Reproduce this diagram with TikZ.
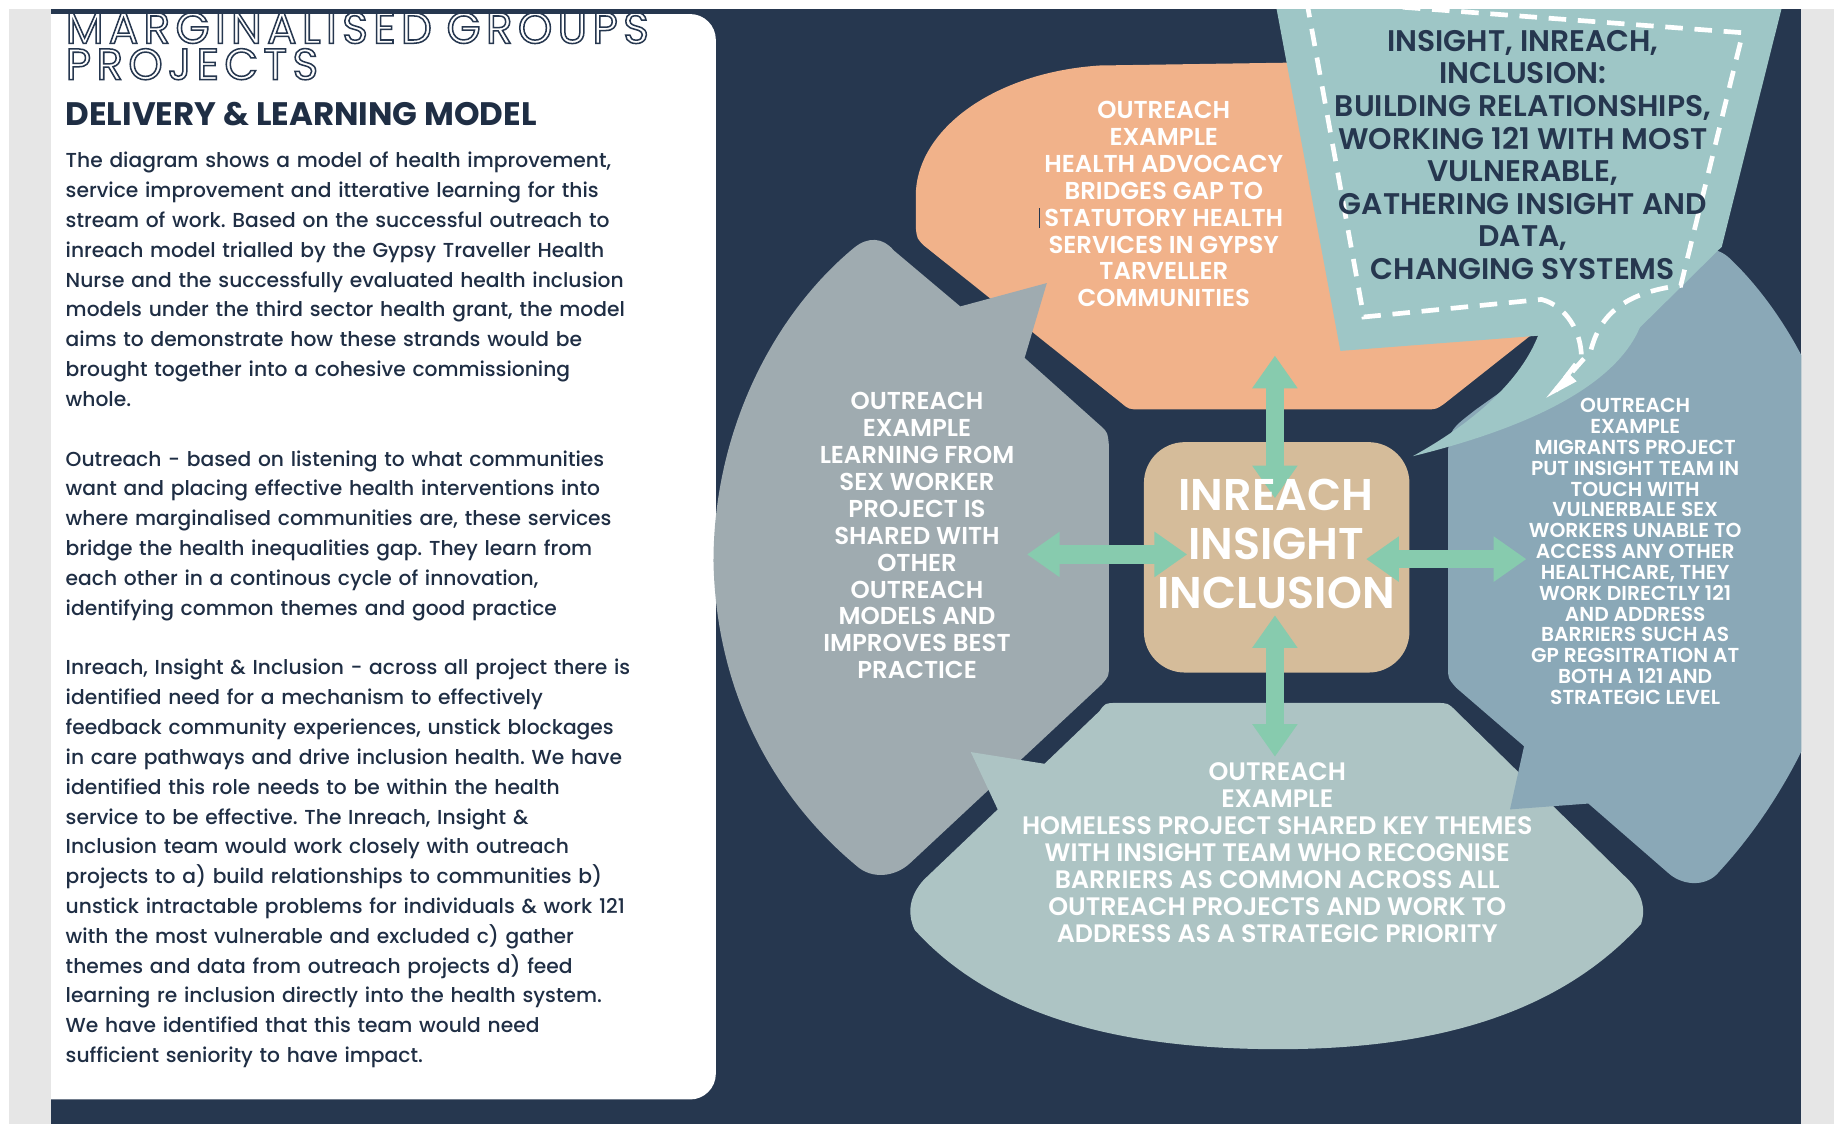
\documentclass[tikz,border=0pt]{standalone}
\usepackage{fontspec}
\setmainfont{Poppins}
\newfontfamily\labfont{Poppins SemiBold}
\newfontfamily\bodyfont{Poppins Medium}
\usetikzlibrary{arrows.meta}
\definecolor{navy}{HTML}{26374F}
\definecolor{lgray}{HTML}{E6E6E6}
\definecolor{peach}{HTML}{F1B28A}
\definecolor{callc}{HTML}{9EC6C6}
\definecolor{greyc}{HTML}{9FABB0}
\definecolor{bluec}{HTML}{8AA8B7}
\definecolor{botc}{HTML}{ADC4C4}
\definecolor{tanc}{HTML}{D5BC9A}
\definecolor{mint}{HTML}{87CBAE}
\definecolor{txtnavy}{HTML}{1F2E44}
% outlined (stroke-only) text
\newcommand\olt[1]{\special{pdf:literal direct 1 Tr 1.3 w}#1\special{pdf:literal direct 0 Tr}}
\tikzset{
  lab/.style={text=white, align=center, inner sep=0pt, font=\labfont\fontsize{20.9}{23}\selectfont},
  marrow/.style={draw=mint, line width=16pt, {Triangle[width=37pt,length=28pt]}-{Triangle[width=37pt,length=28pt]}},
}
\begin{document}
\frenchspacing
\begin{tikzpicture}[x=1pt,y=-1pt]
\useasboundingbox (0,0) rectangle (1568,961);
\fill[white] (0,0) rectangle (1568,961);
\fill[navy] (44,8) rectangle (1540,961);
% white text panel
\fill[white, rounded corners=22pt] (8,12) rectangle (612,940);
\fill[lgray] (8,8) rectangle (44,961);
\fill[lgray] (1540,8) rectangle (1568,961);

\begin{scope}
\clip (44,8) rectangle (1540,961);
% peach
\fill[peach] (783,195) -- (783,165) .. controls (785,110) and (850,62) .. (940,56) -- (1340,50) -- (1340,262)
  -- (1235,345) .. controls (1228,350) .. (1218,350) -- (975,350) .. controls (965,350) .. (958,344)
  -- (790,210) .. controls (784,204) .. (783,195) -- cycle;
% grey left
\fill[greyc] (948,380) -- (948,570) .. controls (948,578) .. (942,585) -- (778,738)
  .. controls (765,750) and (745,752) .. (732,740) .. controls (660,680) and (612,590) .. (610,480)
  .. controls (610,370) and (660,270) .. (730,212) .. controls (742,202) and (755,203) .. (764,214)
  -- (821,262) -- (895,242) -- (876,306) -- (942,365) .. controls (947,370) .. (948,380) -- cycle;
% bottom
\fill[botc] (955,601) -- (1228,601) .. controls (1238,601) .. (1245,608) -- (1392,752)
  .. controls (1402,762) and (1408,775) .. (1403,790) .. controls (1330,870) and (1220,897) .. (1093,897)
  .. controls (960,897) and (850,870) .. (782,795) .. controls (775,780) and (778,765) .. (790,752)
  -- (853,692) -- (830,643) -- (893,653) -- (940,608) .. controls (945,601) .. (955,601) -- cycle;
% blue right
\fill[bluec] (1238,385) -- (1238,570) .. controls (1238,580) .. (1245,588) -- (1303,638) -- (1291,692)
  -- (1358,687) -- (1427,747) .. controls (1440,758) and (1460,758) .. (1470,745)
  .. controls (1530,680) and (1580,580) .. (1585,480) .. controls (1585,380) and (1540,280) .. (1480,222)
  .. controls (1468,210) and (1452,210) .. (1442,222) -- (1262,350) .. controls (1240,367) .. (1238,385) -- cycle;
% callout
\fill[callc] (1090,0) -- (1525,0) -- (1472,211) -- (1402,280)
  .. controls (1385,320) and (1330,360) .. (1208,390)
  .. controls (1262,360) and (1300,325) .. (1315,287) -- (1146,300) -- cycle;
\draw[white, line width=4pt, dash pattern=on 15pt off 10pt]
  (1117,0) -- (1166,271) -- (1318,256) .. controls (1340,262) and (1352,285) .. (1352,305) -- (1330,334)
  -- (1360,300) .. controls (1368,268) and (1390,250) .. (1437,244) -- (1490,28) -- cycle;
\fill[white] (1322,340) -- (1340,318) -- (1348,326) -- cycle;
\end{scope}

% centre box
\node[fill=tanc, rounded corners=35pt, minimum width=227pt, minimum height=197pt, inner sep=0pt] (core) at (1091.5,476.5) {};

% arrows
\coordinate (aT1) at (1090,304); \coordinate (aT2) at (1090,426);
\coordinate (aB1) at (1090,526); \coordinate (aB2) at (1090,647);
\coordinate (aL1) at (878,474);  \coordinate (aL2) at (1015,474);
\coordinate (aR1) at (1168,478); \coordinate (aR2) at (1305,478);
\draw[marrow] (aT1) -- (aT2);
\draw[marrow] (aB1) -- (aB2);
\draw[marrow] (aL1) -- (aL2);
\draw[marrow] (aR1) -- (aR2);

\node[text=white, align=center, inner sep=0pt, font=\labfont\fontsize{38}{42}\selectfont] (coretxt) at (1091,465) {INREACH\\INSIGHT\\INCLUSION};

% labels
\node[lab] (peachtxt) at (995,174.5) {OUTREACH\\EXAMPLE\\HEALTH ADVOCACY\\BRIDGES GAP TO\\STATUTORY HEALTH\\SERVICES IN GYPSY\\TARVELLER\\COMMUNITIES};
\draw[navy, line width=1pt] (889,178) -- (889,195);
\node[lab] (greytxt) at (784,458) {OUTREACH\\EXAMPLE\\LEARNING FROM\\SEX WORKER\\PROJECT IS\\SHARED WITH\\OTHER\\OUTREACH\\MODELS AND\\IMPROVES BEST\\PRACTICE};
\node[lab, font=\labfont\fontsize{17.3}{17.8}\selectfont] (bluetxt) at (1398,471.5) {OUTREACH\\EXAMPLE\\MIGRANTS PROJECT\\PUT INSIGHT TEAM IN\\TOUCH WITH\\VULNERBALE SEX\\WORKERS UNABLE TO\\ACCESS ANY OTHER\\HEALTHCARE, THEY\\WORK DIRECTLY 121\\AND ADDRESS\\BARRIERS SUCH AS\\GP REGSITRATION AT\\BOTH A 121 AND\\STRATEGIC LEVEL};
\node[lab, font=\labfont\fontsize{21.6}{23}\selectfont] (bottxt) at (1092,729) {OUTREACH\\EXAMPLE\\HOMELESS PROJECT SHARED KEY THEMES\\WITH INSIGHT TEAM WHO RECOGNISE\\BARRIERS AS COMMON ACROSS ALL\\OUTREACH PROJECTS AND WORK TO\\ADDRESS AS A STRATEGIC PRIORITY};
\node[lab, text=navy, font=\labfont\fontsize{25.5}{27.86}\selectfont] (calltxt) at (1302,132.5) {INSIGHT, INREACH,\\INCLUSION:\\BUILDING RELATIONSHIPS,\\WORKING 121 WITH MOST\\VULNERABLE,\\GATHERING INSIGHT AND\\DATA,\\CHANGING SYSTEMS};

% left panel text
\node[anchor=base west, inner sep=0pt, text width=560pt, align=left, text=navy, font=\fontsize{37.5}{31}\selectfont\addfontfeature{LetterSpace=12}] (title) at (56,37) {\olt{MARGINALISED GROUPS}\\\olt{PROJECTS}};
\node[anchor=base west, inner sep=0pt, text=txtnavy, font=\bfseries\fontsize{27.8}{30}\selectfont] (sub) at (56,107) {DELIVERY \& LEARNING MODEL};
\node[anchor=base west, inner sep=0pt, text width=600pt, align=left, text=txtnavy, font=\bodyfont\fontsize{17.3}{25.5}\selectfont] (body) at (56,143.5) {%
The diagram shows a model of health improvement,\\
service improvement and itterative learning for this\\
stream of work. Based on the successful outreach to\\
inreach model trialled by the Gypsy Traveller Health\\
Nurse and the successfully evaluated health inclusion\\
models under the third sector health grant, the model\\
aims to demonstrate how these strands would be\\
brought together into a cohesive commissioning\\
whole.\\[25.5pt]
Outreach - based on listening to what communities\\
want and placing effective health interventions into\\
where marginalised communities are, these services\\
bridge the health inequalities gap. They learn from\\
each other in a continous cycle of innovation,\\
identifying common themes and good practice\\[25.5pt]
Inreach, Insight \& Inclusion - across all project there is\\
identified need for a mechanism to effectively\\
feedback community experiences, unstick blockages\\
in care pathways and drive inclusion health. We have\\
identified this role needs to be within the health\\
service to be effective. The Inreach, Insight \&\\
Inclusion team would work closely with outreach\\
projects to a) build relationships to communities b)\\
unstick intractable problems for individuals \& work 121\\
with the most vulnerable and excluded c) gather\\
themes and data from outreach projects d) feed\\
learning re inclusion directly into the health system.\\
We have identified that this team would need\\
sufficient seniority to have impact.};
\end{tikzpicture}
\end{document}
